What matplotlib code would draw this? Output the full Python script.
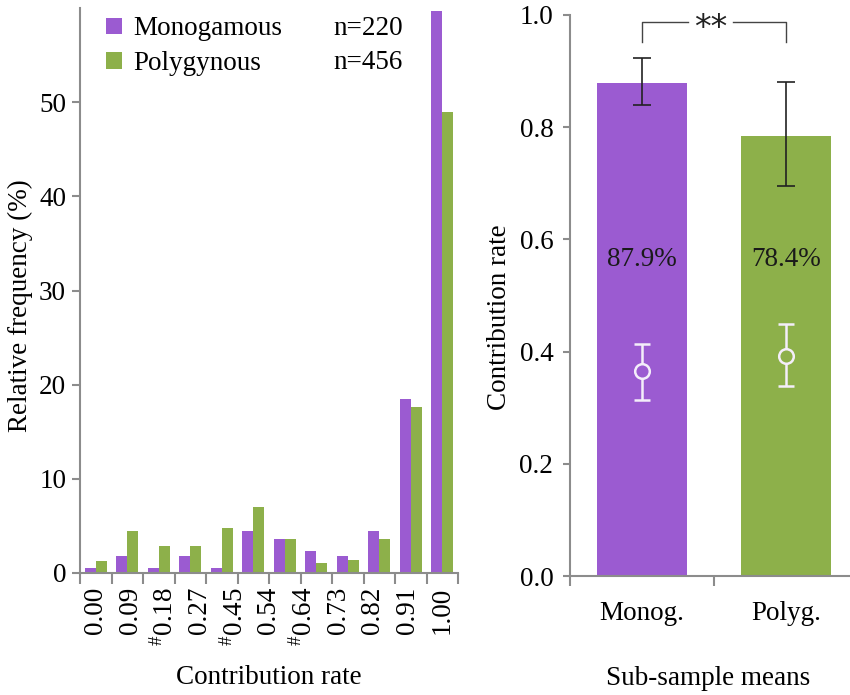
import numpy as np
import matplotlib.pyplot as plt

plt.rcParams['font.family'] = ['Liberation Serif', 'DejaVu Serif']
plt.rcParams['mathtext.fontset'] = 'custom'
plt.rcParams['mathtext.rm'] = 'Liberation Serif'

# histogram of contribution rates (%)
bins = ['0.00', '0.09', '0.18', '0.27', '0.36', '0.45', '0.54', '0.64', '0.73', '0.82', '0.91', '1.00']
mono_freq = [0.5, 1.8, 0.5, 1.8, 0.5, 4.5, 3.6, 2.3, 1.8, 4.5, 18.5, 59.7]
poly_freq = [1.3, 4.5, 2.9, 2.9, 4.8, 7.0, 3.6, 1.1, 1.4, 3.6, 17.6, 49.0]
tick_text = ['0.00', '0.09', r'$^{\#}$0.18', '0.27', r'$^{\#}$0.45', '0.54',
             r'$^{\#}$0.64', '0.73', '0.82', '0.91', '1.00']
n_mono = 220
n_poly = 456

# sub-sample means
groups = ['Monog.', 'Polyg.']
means = [0.879, 0.784]
err_lo = [0.840, 0.695]
err_hi = [0.923, 0.880]
inner = [0.365, 0.392]
inner_lo = [0.314, 0.339]
inner_hi = [0.414, 0.450]
pct_text = ['87.9%', '78.4%']

purple = '#9b5bd1'
green = '#8db04a'
grey = '#8c8c8c'
fs = 19.5

fig = plt.figure(figsize=(8.5, 6.95), dpi=100)

# ---- left: histogram
ax1 = fig.add_axes([80/850, 1-573/695, 378/850, 565/695])
x = np.arange(len(bins))
w = 0.35
ax1.bar(x - w/2, mono_freq, w, color=purple, label='Monogamous')
ax1.bar(x + w/2, poly_freq, w, color=green, label='Polygynous')
ax1.set_xlim(-0.5, len(bins) - 0.5)
ax1.set_ylim(0, 60)
ax1.set_yticks([0, 10, 20, 30, 40, 50])
ax1.xaxis.remove_overlapping_locs = False
ax1.set_xticks(np.arange(-0.5, len(bins)), labels=[])
ax1.set_xticks(np.linspace(0, len(bins) - 1, len(tick_text)), labels=tick_text, minor=True)
ax1.tick_params(axis='x', which='major', length=8, width=1.5, color=grey)
ax1.tick_params(axis='x', which='minor', length=0, pad=10, labelsize=fs, rotation=90)
ax1.tick_params(axis='y', length=6, width=1.5, color=grey, pad=4, labelsize=fs)
for s in ['top', 'right']:
    ax1.spines[s].set_visible(False)
for s in ['left', 'bottom']:
    ax1.spines[s].set_color(grey)
    ax1.spines[s].set_linewidth(1.5)
ax1.set_ylabel('Relative frequency (%)', fontsize=fs)
ax1.yaxis.set_label_coords(-0.124, 0.474)
ax1.set_xlabel('Contribution rate', fontsize=fs)
ax1.xaxis.set_label_coords(0.5, -0.163)
leg = ax1.legend(loc='upper left', bbox_to_anchor=(0.07, 0.985), frameon=False,
                 fontsize=fs, handlelength=0.58, handleheight=0.55, handletextpad=0.42,
                 labelspacing=0.36, borderpad=0, borderaxespad=0)
ax1.text(0.669, 0.963, 'n=%d' % n_mono, transform=ax1.transAxes, fontsize=fs, va='center')
ax1.text(0.669, 0.904, 'n=%d' % n_poly, transform=ax1.transAxes, fontsize=fs, va='center')

# ---- right: means
ax2 = fig.add_axes([570/850, 1-576/695, 280/850, 561/695])
xb = np.arange(len(groups))
ax2.bar(xb, means, 0.63, color=[purple, green])
ax2.errorbar(xb, means,
             yerr=[np.array(means) - np.array(err_lo), np.array(err_hi) - np.array(means)],
             fmt='none', ecolor='#222222', elinewidth=1.2, capsize=6.5, capthick=1.2)
ax2.errorbar(xb, inner,
             yerr=[np.array(inner) - np.array(inner_lo), np.array(inner_hi) - np.array(inner)],
             fmt='none', ecolor='#f4eefa', elinewidth=1.8, capsize=5.5, capthick=1.8)
for xi, c in zip(xb, [purple, green]):
    ax2.plot(xi, inner[xi], 'o', ms=10.5, mfc=c, mec='#f4eefa', mew=1.8, zorder=5)
for xi, t in zip(xb, pct_text):
    ax2.text(xi, 0.564, t, ha='center', va='center', fontsize=fs, color='#1a1a1a')

# significance bracket
yb, ye = 0.988, 0.951
ax2.plot([0, 0, 0.32], [ye, yb, yb], color='#444444', lw=1)
ax2.plot([0.63, 1, 1], [yb, yb, ye], color='#444444', lw=1)
ax2.text(0.475, yb - 0.012, '**', ha='center', va='center', fontsize=24,
         family='DejaVu Sans', color='#222222')

ax2.set_xlim(-0.5, 1.444)
ax2.set_ylim(0, 1.0)
ax2.set_yticks([0, 0.2, 0.4, 0.6, 0.8, 1.0])
ax2.set_yticklabels(['%.1f' % v for v in [0, 0.2, 0.4, 0.6, 0.8, 1.0]])
ax2.set_xticks([-0.5, 0.5], labels=[])
ax2.set_xticks(xb, labels=groups, minor=True)
ax2.tick_params(axis='x', which='major', length=7, width=1.5, color=grey)
ax2.tick_params(axis='x', which='minor', length=0, pad=18, labelsize=fs)
ax2.tick_params(axis='y', length=5, width=1.5, color=grey, pad=7, labelsize=fs)
for s in ['top', 'right']:
    ax2.spines[s].set_visible(False)
for s in ['left', 'bottom']:
    ax2.spines[s].set_color(grey)
    ax2.spines[s].set_linewidth(1.5)
ax2.set_ylabel('Contribution rate', fontsize=fs)
ax2.yaxis.set_label_coords(-0.207, 0.462)
ax2.set_xlabel('Sub-sample means', fontsize=fs)
ax2.xaxis.set_label_coords(0.493, -0.160)

fig.savefig('out.png', dpi=100)
